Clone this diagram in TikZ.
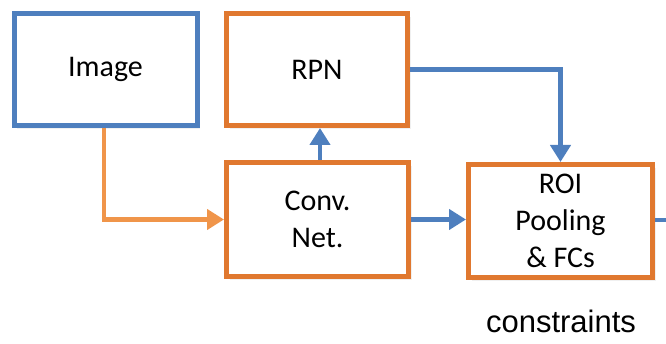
\documentclass[tikz,border=0pt]{standalone}
\usepackage{fontspec}
\setmainfont{Carlito}
\newfontfamily\arialf{Liberation Sans}
\usetikzlibrary{arrows.meta,shadows}
\definecolor{boxorange}{HTML}{E0782F}
\definecolor{arrorange}{HTML}{F0954A}
\definecolor{boxblue}{HTML}{4E7FBE}
\tikzset{
  box/.style={draw, line width=5pt, fill=white, inner sep=0pt, align=center,
    font=\fontsize{30}{37}\selectfont,
    drop shadow={shadow xshift=3pt, shadow yshift=-4pt, opacity=0.12}},
  orangebox/.style={box, draw=boxorange},
  bluebox/.style={box, draw=boxblue},
  conn/.style={line width=4.5pt, -{Triangle[length=17pt,width=20pt]}},
}
\begin{document}
\begin{tikzpicture}[x=1pt,y=-1pt]
\useasboundingbox (0,0) rectangle (666,344);
\node[bluebox, minimum width=183pt, minimum height=112pt] (img) at (105.5,69.5) {Image};
\node[orangebox, minimum width=181pt, minimum height=112pt] (rpn) at (317,69.5) {RPN};
\node[orangebox, minimum width=182pt, minimum height=114pt] (conv) at (317.5,219.5) {Conv.\\Net.};
\node[orangebox, minimum width=184pt, minimum height=113pt] (roi) at (560.5,221) {ROI\\Pooling\\\&~FCs};
\coordinate (outr) at (668,220);
\draw[conn, draw=arrorange] (img.south -| 104,0) |- (conv.west);
\draw[conn, draw=boxblue] (conv.north -| 320,0) -- (rpn.south -| 320,0);
\draw[conn, draw=boxblue] (rpn.east) -| (roi.north);
\draw[conn, draw=boxblue] (conv.east) -- (conv.east -| roi.west);
\draw[line width=4.5pt, draw=boxblue] (roi.east |- outr) -- (outr);
\node[font=\arialf\fontsize{31}{36}\selectfont, anchor=base] (cons) at (561,333) {constraints};
\end{tikzpicture}
\end{document}
